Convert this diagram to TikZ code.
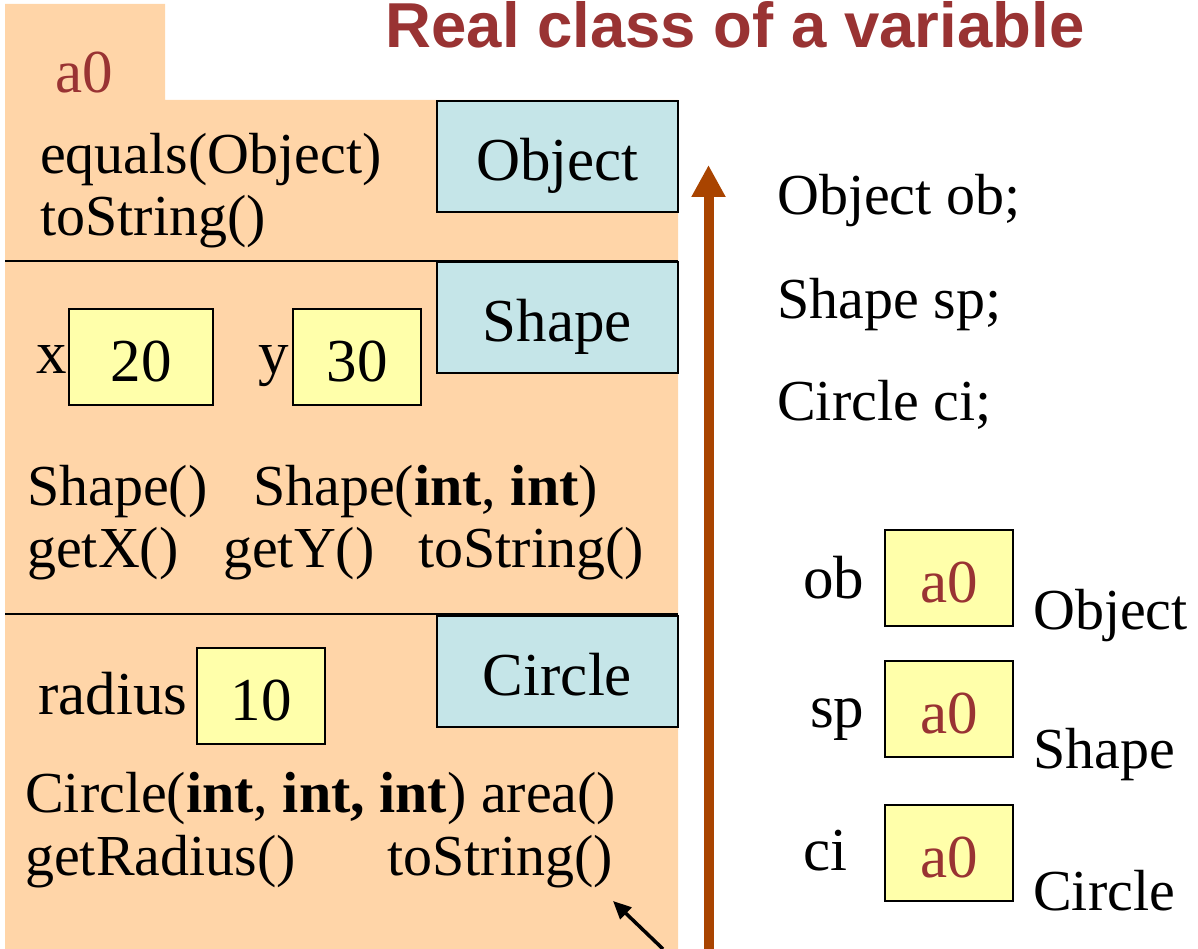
\documentclass[tikz,border=0pt]{standalone}
\usepackage{fontspec}
\setmainfont{Liberation Serif}
\newfontfamily\titlefont{Liberation Sans}
\usepackage{xcolor}
\usepackage{tikz}
\usetikzlibrary{arrows.meta}
\definecolor{peachbg}{HTML}{FFD5A8}
\definecolor{bluebox}{HTML}{C5E5E8}
\definecolor{yellowval}{HTML}{FFFFAA}
\definecolor{redtext}{HTML}{993333}
\definecolor{brownarrow}{HTML}{A94400}
\newcommand{\memfont}{\fontsize{58}{62}\selectfont}
\newcommand{\lblfont}{\fontsize{61}{64}\selectfont}
\tikzset{
  classbox/.style={draw=black,fill=bluebox,line width=2pt,minimum width=241pt,minimum height=111pt,
    inner sep=0pt,font=\lblfont,text height=48pt,text depth=0pt},
  valbox/.style={draw=black,fill=yellowval,line width=2pt,minimum height=96pt,
    inner sep=0pt,font=\lblfont,text height=48pt,text depth=0pt},
  member/.style={anchor=base west,inner sep=0pt,font=\memfont},
  varname/.style={anchor=base west,inner sep=0pt,font=\lblfont},
}

\begin{document}
\begin{tikzpicture}[x=1pt,y=-1pt,>=Triangle]
\useasboundingbox (0,0) rectangle (1198,949);
\fill[peachbg] (5,4)--(165,4)--(165,100)--(678,100)--(678,949)--(5,949)--cycle;
\draw[line width=2pt] (5,261)--(678,261) (5,614)--(678,614);
\node[anchor=base,inner sep=0pt,text=redtext,font=\titlefont\bfseries\fontsize{63.5}{66}\selectfont] (title) at (735,48) {Real class of a variable};
\node[varname,text=redtext] (tab) at (55,93) {a0};
% Object part
\node[classbox] (obj) at (557.5,156.5) {Object};
\node[member] (eq) at (40,174) {equals(Object)};
\node[member] (ts1) at (40,236) {toString()};
% Shape part
\node[classbox] (shp) at (557.5,317.5) {Shape};
\node[varname] (xl) at (36,373) {x};
\node[valbox,minimum width=144pt] (xv) at (141,357) {20};
\node[varname] (yl) at (258,373) {y};
\node[valbox,minimum width=128pt] (yv) at (357,357) {30};
\node[member] (sh1) at (27,505) {Shape()};
\node[member] (sh2) at (253,505) {Shape(\textbf{int}, \textbf{int})};
\node[member] (gx) at (27,567) {getX()};
\node[member] (gy) at (223,567) {getY()};
\node[member] (ts2) at (418,567) {toString()};
% Circle part
\node[classbox] (cir) at (557.5,671.5) {Circle};
\node[varname] (rl) at (38,714) {radius};
\node[valbox,minimum width=128pt] (rv) at (261,696) {10};
\node[member] (ci1) at (25,812) {Circle(\textbf{int}, \textbf{int, int}) area()};
\node[member] (gr) at (25,875) {getRadius()};
\node[member] (ts3) at (387,875) {toString()};
\coordinate (ptr) at (613,901);
\coordinate (ptrtail) at (663,949);
\draw[line width=3.5pt,-{Triangle[width=16pt,length=18pt]}] (ptrtail)--(ptr);
% arrow up
\coordinate (up0) at (708.5,949);
\coordinate (up1) at (708.5,165);
\draw[brownarrow,line width=10pt,-{Triangle[width=32pt,length=32pt]}] (up0)--(up1);
% declarations
\node[member] (dob) at (777,215) {Object ob;};
\node[member] (dsp) at (777,318) {Shape sp;};
\node[member] (dci) at (777,420) {Circle ci;};
\node[varname] (ob) at (803,598) {ob};
\node[valbox,minimum width=128pt,text=redtext] (obv) at (949,578) {a0};
\node[member] (obc) at (1033,629) {Object};
\node[varname] (sp) at (810,727) {sp};
\node[valbox,minimum width=128pt,text=redtext] (spv) at (949,709) {a0};
\node[member] (spc) at (1033,768) {Shape};
\node[varname] (ci) at (803,870) {ci};
\node[valbox,minimum width=128pt,text=redtext] (civ) at (949,853) {a0};
\node[member] (cic) at (1033,910) {Circle};
\end{tikzpicture}
\end{document}
